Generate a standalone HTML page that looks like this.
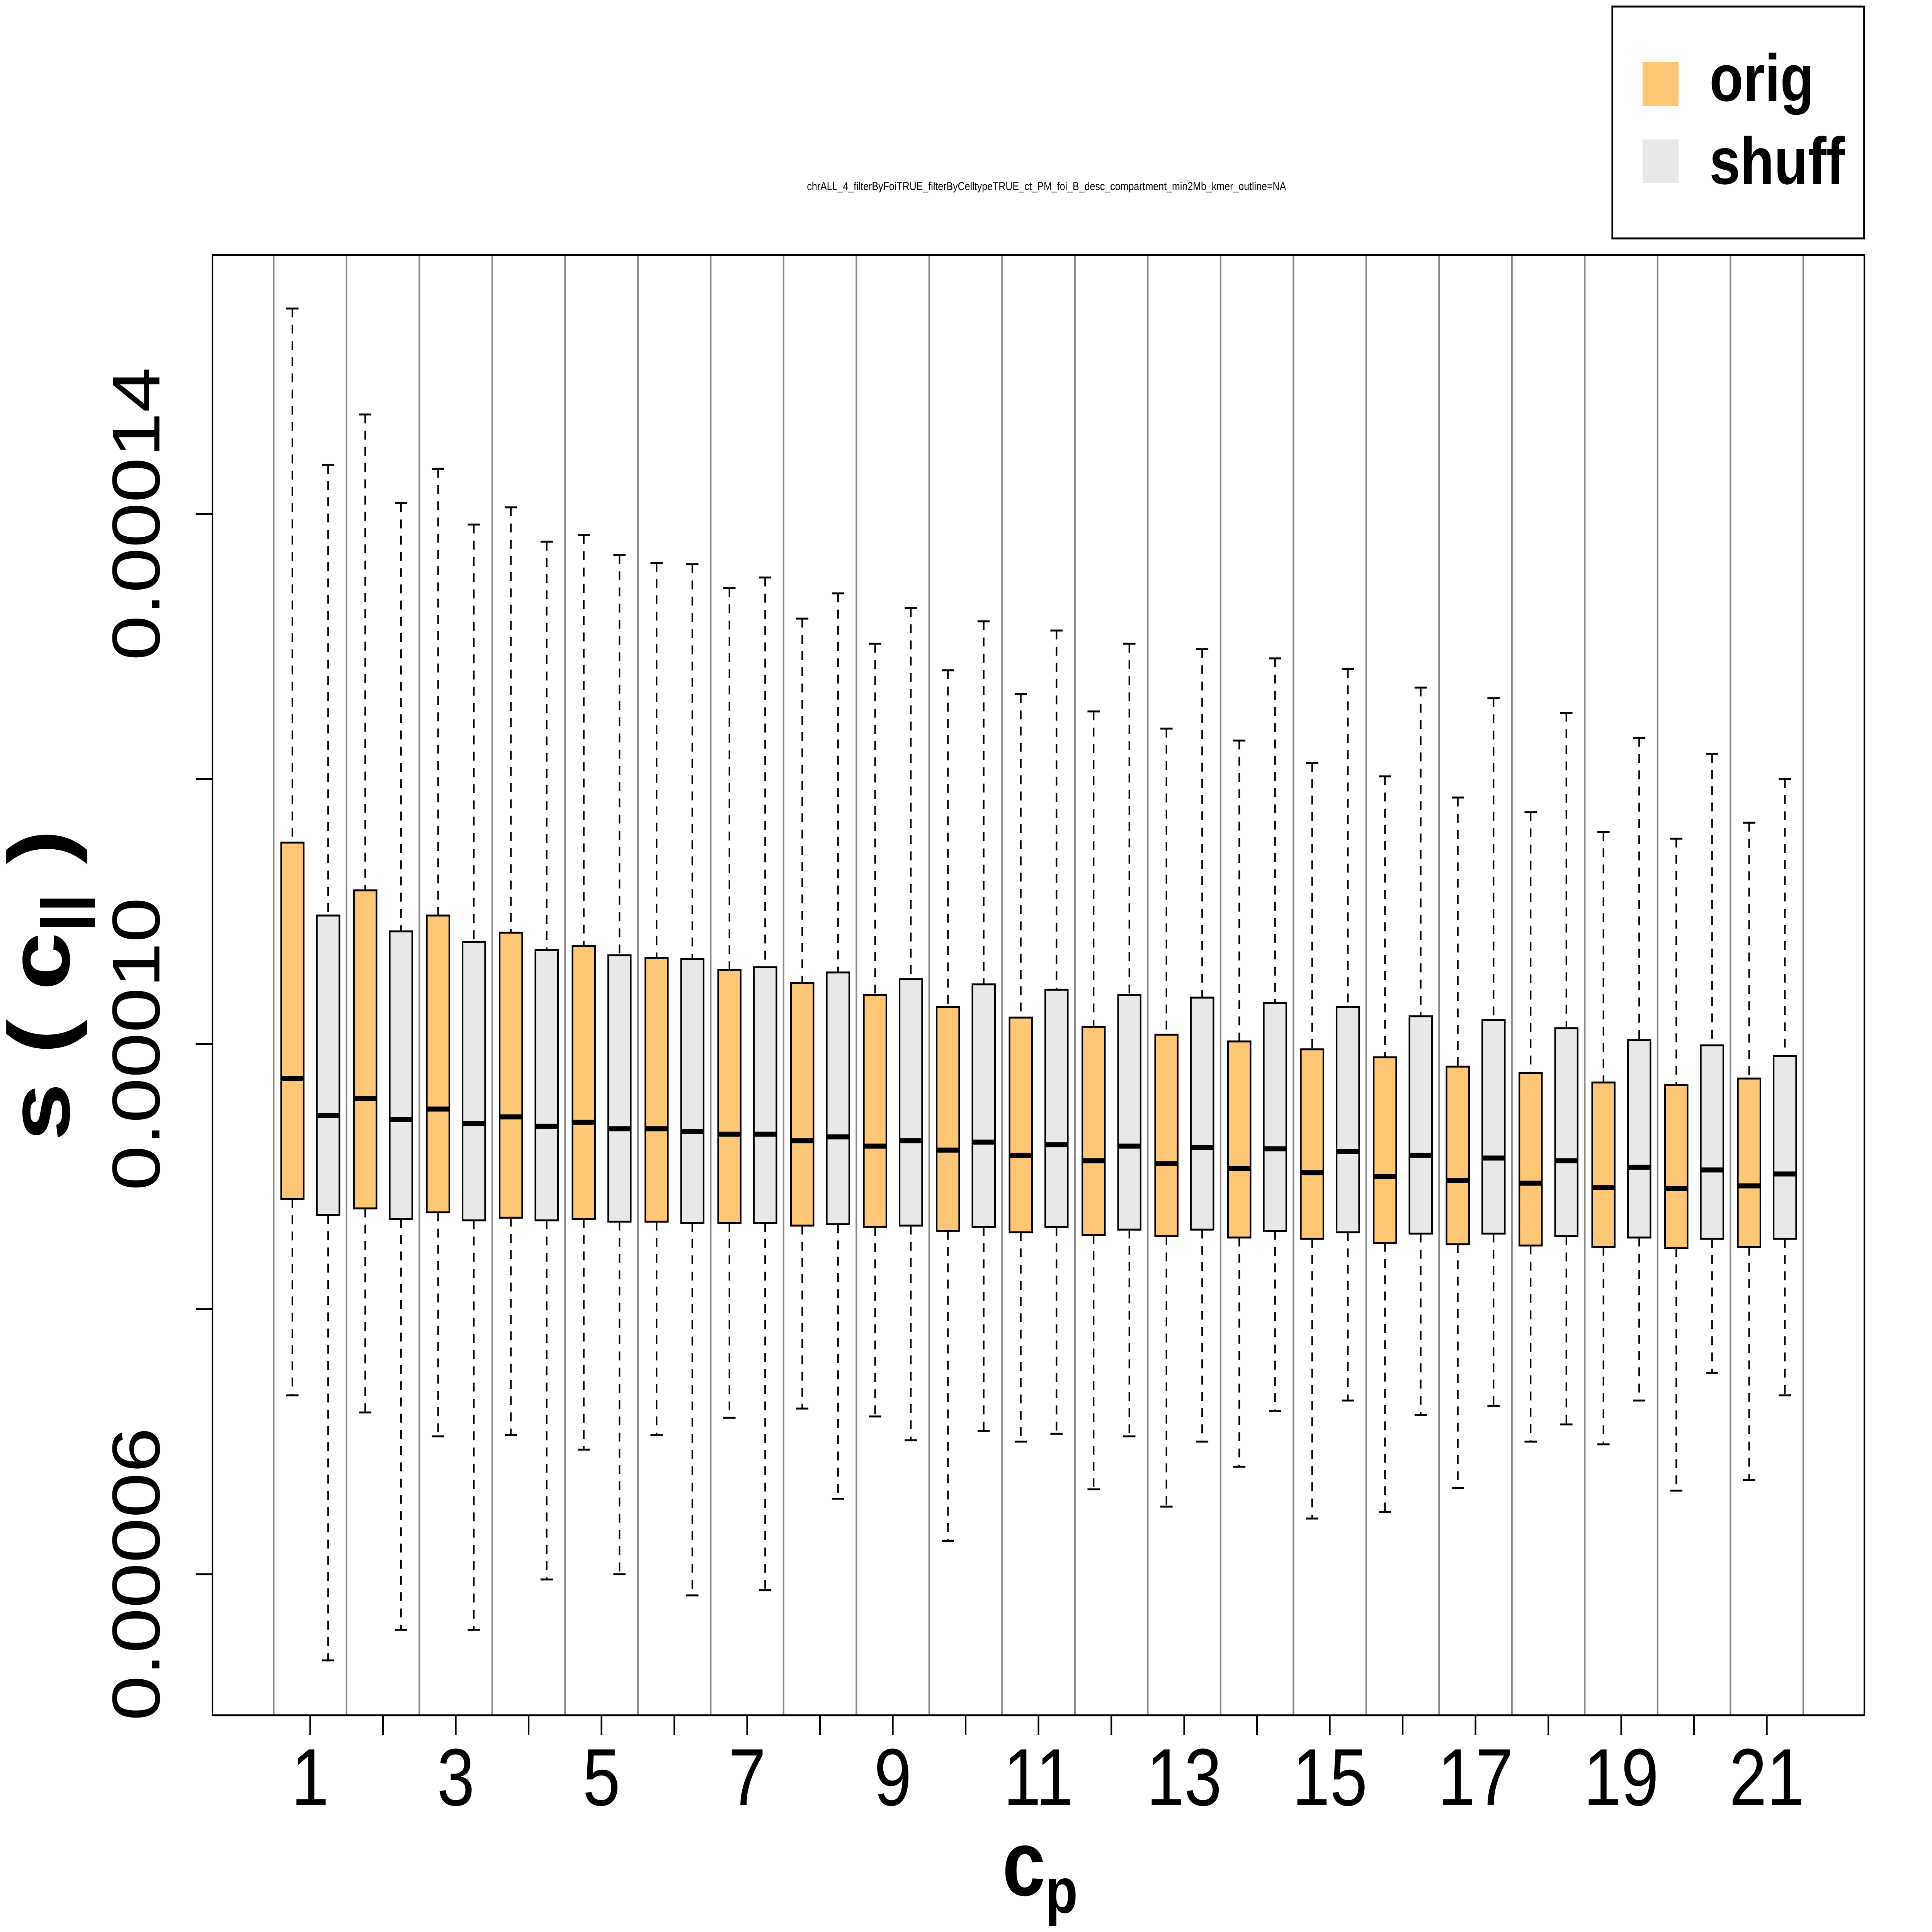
<!DOCTYPE html>
<html>
<head>
<meta charset="utf-8">
<style>
html,body{margin:0;padding:0;background:#fff;overflow:hidden;width:100vw;height:100vh;}
svg{display:block;width:100vw;height:100vh;}
text{font-family:"Liberation Sans",sans-serif;}
</style>
</head>
<body>
<svg id="chart" viewBox="0 0 6000 5000" preserveAspectRatio="none" xmlns="http://www.w3.org/2000/svg">
  <rect x="0" y="0" width="6000" height="5000" fill="#fff"/>
  <text x="3250" y="492" font-size="30" text-anchor="middle">chrALL_4_filterByFoiTRUE_filterByCelltypeTRUE_ct_PM_foi_B_desc_compartment_min2Mb_kmer_outline=NA</text>
  <g id="grid"></g>
  <g id="boxes"></g>
  <rect x="660" y="660" width="5130" height="3779" fill="none" stroke="#000" stroke-width="5"/>
  <g id="xaxis"></g>
  <g id="yaxis"></g>
  <text x="3230" y="4905" font-size="240" font-weight="bold" text-anchor="middle">c<tspan font-size="165" dy="45">p</tspan></text>
  <text transform="translate(215,2550) rotate(-90)" font-size="270" font-weight="bold" text-anchor="middle">s ( c<tspan font-size="180" dy="40">||</tspan><tspan dy="-40"> )</tspan></text>
  <g>
    <rect x="5007" y="17" width="782" height="600" fill="#fff" stroke="#000" stroke-width="5"/>
    <rect x="5101" y="161" width="112" height="113" fill="#FDC776"/>
    <text x="5309" y="261" font-size="172" font-weight="bold">orig</text>
    <rect x="5101" y="361" width="112" height="113" fill="#E8E8E8"/>
    <text x="5309" y="476" font-size="172" font-weight="bold">shuff</text>
  </g>
</svg>
<script>
// values in units of 1e-5
const categories = [1,2,3,4,5,6,7,8,9,10,11,12,13,14,15,16,17,18,19,20,21];
const origWhiskerHigh = [15.55,14.75,14.34,14.05,13.84,13.63,13.44,13.21,13.02,12.82,12.64,12.51,12.38,12.29,12.12,12.02,11.86,11.75,11.60,11.55,11.67];
const origQ3 = [11.52,11.16,10.97,10.84,10.74,10.65,10.56,10.46,10.37,10.28,10.20,10.13,10.07,10.02,9.96,9.90,9.83,9.78,9.71,9.69,9.74];
const origMedian = [9.74,9.59,9.51,9.45,9.41,9.36,9.32,9.27,9.23,9.20,9.16,9.12,9.10,9.06,9.03,9.00,8.97,8.95,8.92,8.91,8.93];
const origQ1 = [8.83,8.76,8.73,8.69,8.68,8.66,8.65,8.63,8.62,8.59,8.58,8.56,8.55,8.54,8.53,8.50,8.49,8.48,8.47,8.46,8.47];
const origWhiskerLow = [7.35,7.22,7.04,7.05,6.94,7.05,7.18,7.25,7.19,6.25,7.00,6.64,6.51,6.81,6.42,6.47,6.65,7.00,6.98,6.63,6.71];
const shuffWhiskerHigh = [14.37,14.08,13.92,13.79,13.69,13.62,13.52,13.40,13.29,13.19,13.12,13.02,12.98,12.91,12.83,12.69,12.61,12.50,12.31,12.19,12.00];
const shuffQ3 = [10.97,10.85,10.77,10.71,10.67,10.64,10.58,10.54,10.49,10.45,10.41,10.37,10.35,10.31,10.28,10.21,10.18,10.12,10.03,9.99,9.91];
const shuffMedian = [9.46,9.43,9.40,9.38,9.36,9.34,9.32,9.30,9.27,9.26,9.24,9.23,9.22,9.21,9.19,9.16,9.14,9.12,9.07,9.05,9.02];
const shuffQ1 = [8.71,8.68,8.67,8.67,8.66,8.65,8.65,8.64,8.63,8.62,8.62,8.60,8.60,8.59,8.58,8.57,8.57,8.55,8.54,8.53,8.53];
const shuffWhiskerLow = [5.35,5.58,5.58,5.96,6.00,5.84,5.88,6.57,7.01,7.08,7.06,7.04,7.00,7.23,7.31,7.20,7.27,7.13,7.31,7.52,7.35];
const yTicks = [6,8,10,12,14];
const yTickLabels = ["0.00006","","0.00010","","0.00014"];

const NS = "http://www.w3.org/2000/svg";
function yScale(v){ return 2702 - (v - 10) * 343; }
function xCenter(i){ return 850 + 226.2 * (i + 0.5); }
function mk(tag, attrs, parent){
  const e = document.createElementNS(NS, tag);
  for (const k in attrs) e.setAttribute(k, attrs[k]);
  parent.appendChild(e);
  return e;
}
const grid = document.getElementById('grid');
const boxes = document.getElementById('boxes');
const xaxis = document.getElementById('xaxis');
const yaxis = document.getElementById('yaxis');

for (let i = 0; i <= categories.length; i++) {
  const gx = 850 + 226.2 * i;
  const l = mk('line', {x1: gx, x2: gx, y1: 660, y2: 4439, stroke: '#888', 'stroke-width': 5}, grid);
  
  
}

function drawBox(cx, hi, q3, med, q1, lo, fill, name){
  const g = mk('g', {}, boxes);
  
  
  const hw = 35, cap = 19;
  const w1 = mk('line', {x1: cx, x2: cx, y1: yScale(hi), y2: yScale(q3), stroke: '#000', 'stroke-width': 5, 'stroke-dasharray': '23 19'}, g);
  
  
  const w2 = mk('line', {x1: cx, x2: cx, y1: yScale(q1), y2: yScale(lo), stroke: '#000', 'stroke-width': 5, 'stroke-dasharray': '23 19'}, g);
  
  
  const c1 = mk('line', {x1: cx - cap, x2: cx + cap, y1: yScale(hi), y2: yScale(hi), stroke: '#000', 'stroke-width': 5}, g);
  
  
  const c2 = mk('line', {x1: cx - cap, x2: cx + cap, y1: yScale(lo), y2: yScale(lo), stroke: '#000', 'stroke-width': 5}, g);
  
  
  const r = mk('rect', {x: cx - hw, y: yScale(q3), width: 2 * hw, height: yScale(q1) - yScale(q3), fill: fill, stroke: '#000', 'stroke-width': 5}, g);
  
  
  const m = mk('line', {x1: cx - hw, x2: cx + hw, y1: yScale(med), y2: yScale(med), stroke: '#000', 'stroke-width': 13}, g);
  
  
}

categories.forEach((c, i) => {
  const cx = xCenter(i);
  drawBox(cx - 55, origWhiskerHigh[i], origQ3[i], origMedian[i], origQ1[i], origWhiskerLow[i], '#FDC776', 'box-orig-' + c);
  drawBox(cx + 56, shuffWhiskerHigh[i], shuffQ3[i], shuffMedian[i], shuffQ1[i], shuffWhiskerLow[i], '#E8E8E8', 'box-shuff-' + c);
  const t = mk('line', {x1: cx, x2: cx, y1: 4439, y2: 4490, stroke: '#000', 'stroke-width': 5}, xaxis);
  
  
  if (c % 2 === 1) {
    const tx = mk('text', {x: cx, y: 4672, 'font-size': 210, 'text-anchor': 'middle'}, xaxis);
    tx.textContent = String(c);
    
    
  }
});

yTicks.forEach((v, i) => {
  const y = yScale(v);
  const t = mk('line', {x1: 608, x2: 660, y1: y, y2: y, stroke: '#000', 'stroke-width': 5}, yaxis);
  
  
  if (yTickLabels[i]) {
    const tx = mk('text', {transform: 'translate(495,' + y + ') rotate(-90)', 'font-size': 210, 'text-anchor': 'middle'}, yaxis);
    tx.textContent = yTickLabels[i];
    
    
  }
});
</script>
</body>
</html>
